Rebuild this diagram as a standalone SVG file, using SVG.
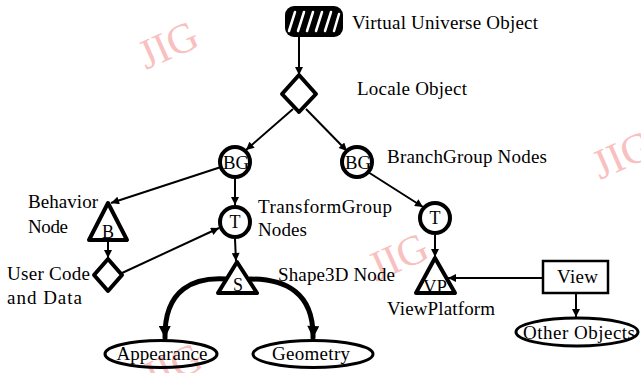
<svg xmlns="http://www.w3.org/2000/svg" width="641" height="373" viewBox="0 0 641 373">
  <style>
    .t { font-family: "Liberation Serif", "Times New Roman", serif; font-size: 19px; fill: #000; }
    .c { text-anchor: middle; }
    .in { font-family: "Liberation Serif", "Times New Roman", serif; font-size: 18px; fill: #000; text-anchor: middle; }
    .node { fill: #fff; stroke: #000; stroke-width: 4; stroke-linejoin: round; }
    .ell { fill: none; stroke: #000; stroke-width: 3; }
    .ln { fill: none; stroke: #000; stroke-width: 2; marker-end: url(#ah); }
    .curve { fill: none; stroke: #000; stroke-width: 5; stroke-linecap: round; marker-end: url(#ahb); }
    .wm { font-family: "Liberation Serif", "Times New Roman", serif; font-size: 42px; fill: #f9c0c0; }
  </style>
  <defs>
    <marker id="ah" viewBox="0 0 10 10" refX="10" refY="5" markerWidth="9" markerHeight="8" markerUnits="userSpaceOnUse" orient="auto">
      <path d="M0,0 L10,5 L0,10 z" fill="#000"/>
    </marker>
    <marker id="ahb" viewBox="0 0 10 10" refX="10" refY="5" markerWidth="14" markerHeight="12" markerUnits="userSpaceOnUse" orient="auto">
      <path d="M0,0 L10,5 L0,10 z" fill="#000"/>
    </marker>
  </defs>
  <rect width="641" height="373" fill="#fff"/>

  <!-- watermark marks (behind the drawing) -->
  <g id="watermarks">
    <text class="wm" transform="translate(146,70) rotate(-24)">JIG</text>
    <text class="wm" transform="translate(600,180) rotate(-24)">JIG</text>
    <text class="wm" transform="translate(376,282) rotate(-24)">JIG</text>
    <text class="wm" transform="translate(150,392) rotate(-24)">JIG</text>
  </g>

  <!-- connectors -->
  <g id="connectors">
    <line class="ln" x1="299" y1="37" x2="299" y2="75"/>
    <line class="ln" x1="293" y1="109" x2="246" y2="150"/>
    <line class="ln" x1="306" y1="109" x2="347" y2="151"/>
    <line class="ln" x1="221" y1="167" x2="111" y2="203"/>
    <line class="ln" x1="235" y1="178" x2="235" y2="205"/>
    <line class="ln" x1="368" y1="172" x2="423" y2="207"/>
    <line class="ln" x1="108" y1="240" x2="108" y2="258"/>
    <line class="ln" x1="122" y1="273" x2="219" y2="228"/>
    <line class="ln" x1="235" y1="239" x2="236" y2="261"/>
    <line class="ln" x1="435" y1="235" x2="435" y2="257"/>
    <line class="ln" x1="543" y1="278" x2="448" y2="278"/>
    <line class="ln" x1="576" y1="293" x2="576" y2="317"/>
    <path class="curve" d="M226,279 C195,277 164,288 165,338"/>
    <path class="curve" d="M250,279 C285,279 314,292 313,338"/>
  </g>

  <!-- Virtual Universe object -->
  <g id="virtual-universe">
    <rect x="285" y="6" width="58" height="31" rx="9" fill="#000"/>
    <g stroke="#fff" stroke-width="2.5" stroke-linecap="round">
      <line x1="289" y1="31" x2="295" y2="12"/>
      <line x1="298" y1="31" x2="304" y2="12"/>
      <line x1="307" y1="31" x2="313" y2="12"/>
      <line x1="316" y1="31" x2="322" y2="12"/>
      <line x1="325" y1="31" x2="331" y2="12"/>
      <line x1="334" y1="31" x2="339" y2="14"/>
    </g>
    <text class="t" x="352" y="29" textLength="186">Virtual Universe Object</text>
  </g>

  <!-- Locale -->
  <g id="locale">
    <polygon class="node" points="299,75 316,94 299,112 282,94"/>
    <text class="t" x="357" y="95" textLength="110">Locale Object</text>
  </g>

  <!-- BranchGroup nodes -->
  <g id="bg-left">
    <circle class="node" cx="235" cy="162" r="15"/>
    <text class="in" x="236" y="169" font-size="19" textLength="26" lengthAdjust="spacingAndGlyphs">BG</text>
  </g>
  <g id="bg-right">
    <circle class="node" cx="357" cy="162" r="15"/>
    <text class="in" x="358" y="169" font-size="19" textLength="26" lengthAdjust="spacingAndGlyphs">BG</text>
    <text class="t" x="387" y="163" textLength="160">BranchGroup Nodes</text>
  </g>

  <!-- Behavior node -->
  <g id="behavior">
    <polygon class="node" points="108,203 127,240 89,240"/>
    <text class="in" x="108" y="238">B</text>
    <text class="t" x="28" y="208" textLength="70">Behavior</text>
    <text class="t" x="28" y="233" textLength="40">Node</text>
  </g>

  <!-- User code and data -->
  <g id="user-code">
    <polygon class="node" points="108,259 122,275 108,291 94,275"/>
    <text class="t" x="7" y="280" textLength="83">User Code</text>
    <text class="t" x="7" y="304" textLength="75">and Data</text>
  </g>

  <!-- TransformGroup nodes -->
  <g id="tg-left">
    <circle class="node" cx="235" cy="222" r="15"/>
    <text class="in" x="235" y="228">T</text>
    <text class="t" x="258" y="213" textLength="134">TransformGroup</text>
    <text class="t" x="258" y="236" textLength="49">Nodes</text>
  </g>
  <g id="tg-right">
    <circle class="node" cx="435" cy="218" r="15"/>
    <text class="in" x="435" y="224">T</text>
  </g>

  <!-- Shape3D -->
  <g id="shape3d">
    <polygon class="node" points="237,262 257,293 218,293"/>
    <text class="in" x="238" y="291">S</text>
    <text class="t" x="278" y="281" textLength="117">Shape3D Node</text>
  </g>

  <!-- ViewPlatform -->
  <g id="view-platform">
    <polygon class="node" points="435,258 455,293 416,293"/>
    <text class="in" x="435" y="293" textLength="24" lengthAdjust="spacingAndGlyphs">VP</text>
    <text class="t" x="387" y="315" textLength="108">ViewPlatform</text>
  </g>

  <!-- View -->
  <g id="view">
    <rect x="543" y="261" width="65" height="32" fill="#fff" stroke="#000" stroke-width="2.5"/>
    <text class="t" x="557" y="283" textLength="41">View</text>
  </g>

  <!-- Leaf objects -->
  <g id="appearance">
    <ellipse class="ell" cx="161" cy="354" rx="56" ry="13.5"/>
    <text class="t c" x="162" y="360" textLength="91">Appearance</text>
  </g>
  <g id="geometry">
    <ellipse class="ell" cx="313" cy="354" rx="60" ry="13.5"/>
    <text class="t c" x="311" y="360" textLength="78">Geometry</text>
  </g>
  <g id="other-objects">
    <ellipse class="ell" cx="577" cy="332" rx="61" ry="14"/>
    <text class="t c" x="579" y="339" textLength="112">Other Objects</text>
  </g>
</svg>
